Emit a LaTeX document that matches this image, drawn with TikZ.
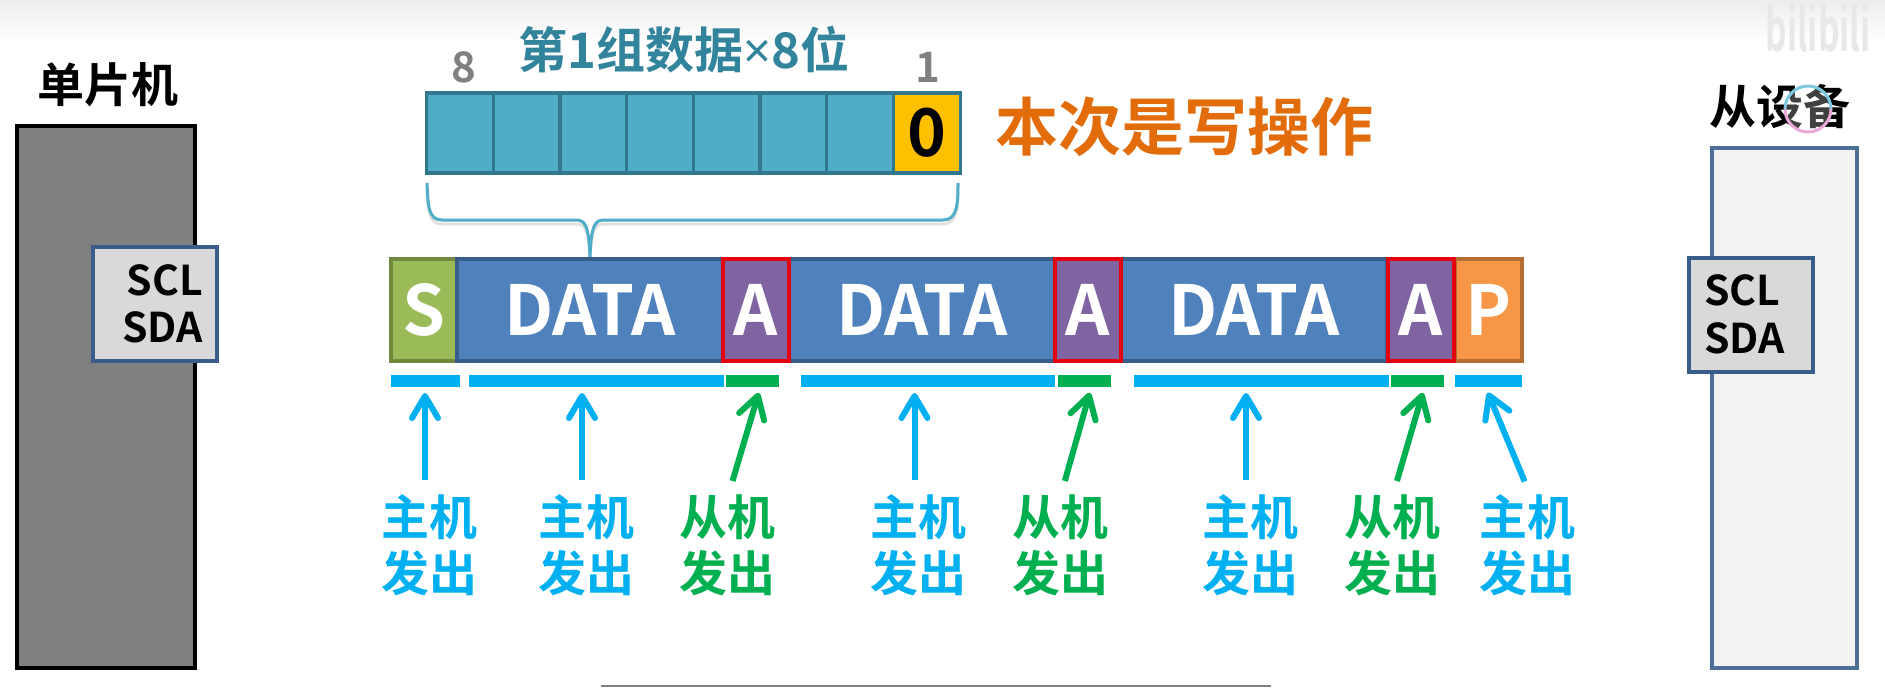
\documentclass[tikz,border=0pt]{standalone}
\usepackage{fontspec}
\usepackage{graphicx}
\setmainfont{Noto Sans CJK SC}[BoldFont={Noto Sans CJK SC Bold}]
\newfontfamily\narrowsign{Noto Sans}
\usetikzlibrary{arrows.meta,positioning,calc}
\definecolor{datafill}{HTML}{4F81BD}
\definecolor{dataline}{HTML}{385D8A}
\definecolor{cellfill}{HTML}{4FADC7}
\definecolor{cellline}{HTML}{31788F}
\definecolor{senderblue}{HTML}{00B0F0}
\definecolor{sendergreen}{HTML}{00B050}
\definecolor{opcolor}{HTML}{E36C0A}
\definecolor{titlecolor}{HTML}{31849B}
\definecolor{ackfill}{HTML}{8064A2}
\definecolor{sfill}{HTML}{9BBB59}
\definecolor{sline}{HTML}{71893F}
\definecolor{pfill}{HTML}{F79646}
\definecolor{pline}{HTML}{B66D31}
\definecolor{ackline}{HTML}{E3000F}
\definecolor{zerofill}{HTML}{FFC000}
\definecolor{ringtop}{HTML}{7EC8E3}
\definecolor{ringbottom}{HTML}{E8A8D8}
\tikzset{
  x=0.5pt,y=-0.5pt,
  every node/.style={font=\bfseries,inner sep=0pt,outer sep=0pt},
  seg/.style={draw=dataline,line width=2pt,anchor=north west,minimum height=51pt,text=white,font=\bfseries\fontsize{34.5}{36}\selectfont},
  datacell/.style={seg,fill=datafill,minimum width=133pt},
  ackcell/.style={seg,fill=ackfill,draw=ackline,minimum width=33pt},
  bitcell/.style={draw=cellline,line width=1.6pt,fill=cellfill,anchor=north west,minimum width=33.4pt,minimum height=40pt},
  stripe/.style={anchor=north west,minimum height=6pt},
  bluebar/.style={stripe,fill=senderblue},
  greenbar/.style={stripe,fill=sendergreen},
  whoblue/.style={text=senderblue,align=center,minimum height=50pt,font=\bfseries\fontsize{24}{28}\selectfont},
  whogreen/.style={whoblue,text=sendergreen},
  bluearrow/.style={senderblue,line width=3pt,shorten <=7pt,shorten >=3pt,-{Straight Barb[length=11pt,width=13pt,line width=3pt,round]}},
  greenarrow/.style={bluearrow,sendergreen},
  port/.style={draw=dataline,line width=2pt,fill=black!15,anchor=north west,text=black},
  porttext/.style={text=black,font=\bfseries\fontsize{20.5}{24}\selectfont},
  heading/.style={text=black,font=\bfseries\fontsize{23.5}{26}\selectfont},
  bitnumber/.style={text=black!50,font=\bfseries\fontsize{21}{24}\selectfont},
}
\begin{document}
\begin{tikzpicture}
\useasboundingbox (0,0) rectangle (1885,687);
\fill[white] (0,0) rectangle (1885,687);
\shade[top color=black!7,bottom color=white] (0,0) rectangle (1885,42);
% watermark
\node[text=black!9,font=\bfseries\fontsize{30}{32}\selectfont] (wm) at (1818,28) {\scalebox{0.56}[1]{bilibili}};
% bottom rule
\coordinate (ruleL) at (601,686);
\coordinate (ruleR) at (1271,686);
\draw[black!50,line width=1pt] (ruleL) -- (ruleR);

% MCU
\node[heading] (mcutitle) at (108,85) {单片机};
\node[draw=black,line width=2pt,fill=black!50,anchor=north west,minimum width=89pt,minimum height=271pt] (mcu) at (17,126) {};
\node[port,minimum width=62pt,minimum height=57pt] (mport) at (93,247) {};
\node[porttext,anchor=east] (mscl) at (203,280) {SCL};
\node[porttext,anchor=east] (msda) at (203,327) {SDA};

% Slave
\node[heading] (slavetitle) at (1780,107) {从设备};
\node[draw=dataline!90!white,line width=1.6pt,fill=black!5,anchor=north west,minimum width=72.5pt,minimum height=260pt] (slave) at (1712,148) {};
\node[port,minimum width=62pt,minimum height=57pt] (sport) at (1689,258) {};
\node[porttext,anchor=west] (sscl) at (1704,290) {SCL};
\node[porttext,anchor=west] (ssda) at (1704,338) {SDA};
% cursor ring over the title
\node[circle,fill=white,fill opacity=0.25,minimum size=23pt] (ring) at (1808,109) {};
\draw[ringtop,line width=1.5pt] (ring.west) arc (180:0:11.5pt);
\draw[ringbottom,line width=1.5pt] (ring.east) arc (0:-180:11.5pt);

% byte register
\node[text=titlecolor,font=\bfseries\fontsize{24.5}{26}\selectfont] (bytetitle) at (684,50) {第1组数据{\narrowsign ×}8位};
\node[bitnumber] (msb) at (464,67) {8};
\node[bitnumber] (lsb) at (928,67) {1};
\node[bitcell] (b8) at (426.5,93) {};
\node[bitcell] (b7) at (493.2,93) {};
\node[bitcell] (b6) at (559.9,93) {};
\node[bitcell] (b5) at (626.6,93) {};
\node[bitcell] (b4) at (693.3,93) {};
\node[bitcell] (b3) at (760,93) {};
\node[bitcell] (b2) at (826.7,93) {};
\node[bitcell,fill=zerofill,font=\bfseries\fontsize{33}{36}\selectfont,text=black] (b1) at (893.4,93) {0};
\node[text=opcolor,font=\bfseries\fontsize{31.5}{36}\selectfont,anchor=west] (op) at (995,127) {本次是写操作};

% brace
\draw[black!12,line width=1.5pt,line join=round,yshift=-1.5pt]
  (427,183) .. controls (428,205) and (428,221) .. (442,221) -- (576,221) .. controls (585,221) and (589,226) .. (590,258)
  .. controls (591,226) and (595,221) .. (604,221) -- (943,221) .. controls (957,221) and (958,205) .. (958,183);
\draw[cellfill,line width=1.5pt,line join=round]
  (427,183) .. controls (428,205) and (428,220) .. (442,220) -- (576,220) .. controls (585,220) and (589,225) .. (590,258)
  .. controls (591,225) and (595,220) .. (604,220) -- (943,220) .. controls (957,220) and (958,205) .. (958,183);

% frame
\node[seg,fill=sfill,draw=sline,minimum width=33pt] (s) at (391,259) {S};
\node[datacell] (d1) at (457,259) {DATA};
\node[datacell] (d2) at (789,259) {DATA};
\node[datacell] (d3) at (1121,259) {DATA};
\node[seg,fill=pfill,draw=pline,minimum width=33.5pt] (p) at (1455,259) {P};
\node[ackcell] (a1) at (723,259) {A};
\node[ackcell] (a2) at (1055,259) {A};
\node[ackcell] (a3) at (1388,259) {A};

% sender bars
\node[bluebar,minimum width=34.5pt] (bs) at (391,375) {};
\node[bluebar,minimum width=127.5pt] (bd1) at (469,375) {};
\node[greenbar,minimum width=26.5pt] (ba1) at (726,375) {};
\node[bluebar,minimum width=127pt] (bd2) at (801,375) {};
\node[greenbar,minimum width=26.5pt] (ba2) at (1058,375) {};
\node[bluebar,minimum width=127.5pt] (bd3) at (1134,375) {};
\node[greenbar,minimum width=26.5pt] (ba3) at (1391,375) {};
\node[bluebar,minimum width=33.5pt] (bp) at (1455,375) {};

% sender labels
\node[whoblue] (ls) at (429,545) {主机\\发出};
\node[whoblue] (ld1) at (586,545) {主机\\发出};
\node[whogreen] (la1) at (727,545) {从机\\发出};
\node[whoblue] (ld2) at (918,545) {主机\\发出};
\node[whogreen] (la2) at (1060,545) {从机\\发出};
\node[whoblue] (ld3) at (1250,545) {主机\\发出};
\node[whogreen] (la3) at (1392,545) {从机\\发出};
\node[whoblue] (lp) at (1527,545) {主机\\发出};

% arrows
\draw[bluearrow] ([xshift=-2pt]ls.north) -- ([xshift=-2pt]ls.north |- bs.south);
\draw[bluearrow] ([xshift=-2pt]ld1.north) -- ([xshift=-2pt]ld1.north |- bd1.south);
\draw[greenarrow] ([xshift=0.75pt]la1.north) -- ([xshift=4pt]ba1.south);
\draw[bluearrow] ([xshift=-1.75pt]ld2.north) -- ([xshift=-1.75pt]ld2.north |- bd2.south);
\draw[greenarrow] ([xshift=0.5pt]la2.north) -- ([xshift=3.5pt]ba2.south);
\draw[bluearrow] ([xshift=-2pt]ld3.north) -- ([xshift=-2pt]ld3.north |- bd3.south);
\draw[greenarrow] ([xshift=0.5pt]la3.north) -- ([xshift=3.5pt]ba3.south);
\draw[bluearrow] ([xshift=1.5pt]lp.north) -- ([xshift=-1.5pt]bp.south);
\end{tikzpicture}
\end{document}
